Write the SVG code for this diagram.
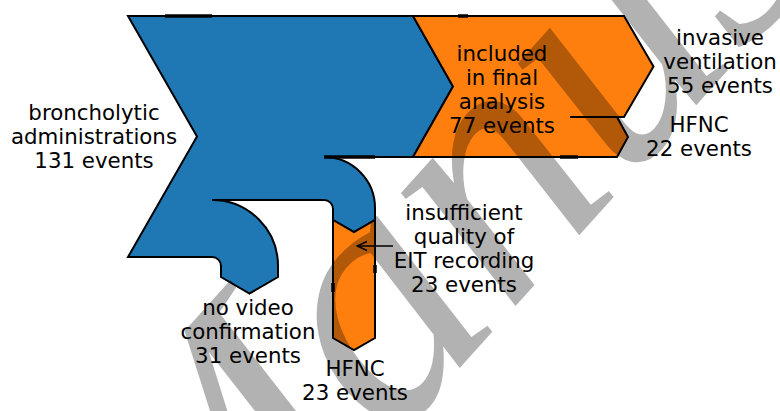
<svg xmlns="http://www.w3.org/2000/svg" width="780" height="411" viewBox="0 0 780 411">
<style>
.flow{stroke:#000;stroke-width:2;stroke-linejoin:miter}
.blue{fill:#1f77b4}
.orange{fill:#ff7f0e}
.tick{stroke:#000;stroke-width:3.5;fill:none}
.lbl{font-family:"DejaVu Sans",sans-serif;font-size:21.33px;fill:#000;text-anchor:middle}
.wm{font-family:"Liberation Serif",serif;font-style:italic;font-size:350px;fill:#000;fill-opacity:0.3}
</style>
<defs>
<marker id="ah" viewBox="0 0 12 12" refX="11" refY="6" markerWidth="12" markerHeight="12" markerUnits="userSpaceOnUse" orient="auto">
<path d="M1,1.5 L11,6 L1,10.5" fill="none" stroke="#000" stroke-width="1.5"/>
</marker>
</defs>
<g id="broncholytic">
<path class="flow blue" d="M128,16 L413,16 L453,86.5 L413,157 L324,157 A51,51 0 0 1 375,208 L375,220 L354,232 L333,220 L333,209 A9,9 0 0 0 324,200 L212,200 A66,66 0 0 1 278,266 L278,277 L249.5,293.5 L221,277 L221,266 A9,9 0 0 0 212,257 L128,257 L197,136.5 Z"/>
<line class="tick" x1="165" y1="16" x2="212" y2="16"/>
<line class="tick" x1="324" y1="157" x2="375" y2="157"/>
</g>
<g id="included">
<path class="flow orange" d="M413,16 L624,16 L653.5,66.5 L624,117 L570,117 L617,117 L628,137 L617,157 L413,157 L453,86.5 Z"/>
<line class="tick" x1="458" y1="16" x2="468" y2="16"/>
<line class="tick" x1="560" y1="157" x2="578" y2="157"/>
</g>
<g id="insufficient">
<path class="flow orange" d="M333,220 L354,232 L375,220 L375,338 L354,350 L333,338 Z"/>
<line class="tick" x1="333" y1="283" x2="333" y2="292"/>
<line class="tick" x1="375" y1="265" x2="375" y2="273"/>
</g>
<g id="connectors">
<line x1="393" y1="246" x2="357" y2="246" stroke="#000" stroke-width="1.5" marker-end="url(#ah)"/>
</g>
<g id="watermark">
<text class="wm" transform="translate(195,662) rotate(-48)">Manuscript</text>
</g>
<g id="labels">
<text class="lbl" x="94" y="120">broncholytic</text>
<text class="lbl" x="94" y="144">administrations</text>
<text class="lbl" x="94" y="168">131 events</text>
<text class="lbl" x="502" y="61">included</text>
<text class="lbl" x="502" y="85">in final</text>
<text class="lbl" x="502" y="109">analysis</text>
<text class="lbl" x="502" y="133">77 events</text>
<text class="lbl" x="720" y="45">invasive</text>
<text class="lbl" x="720" y="69">ventilation</text>
<text class="lbl" x="720" y="93">55 events</text>
<text class="lbl" x="699" y="132">HFNC</text>
<text class="lbl" x="699" y="156">22 events</text>
<text class="lbl" x="464" y="220">insufficient</text>
<text class="lbl" x="464" y="244">quality of</text>
<text class="lbl" x="464" y="268">EIT recording</text>
<text class="lbl" x="464" y="292">23 events</text>
<text class="lbl" x="248" y="315">no video</text>
<text class="lbl" x="248" y="339">confirmation</text>
<text class="lbl" x="248" y="363">31 events</text>
<text class="lbl" x="355" y="376">HFNC</text>
<text class="lbl" x="355" y="400">23 events</text>
</g>
</svg>
